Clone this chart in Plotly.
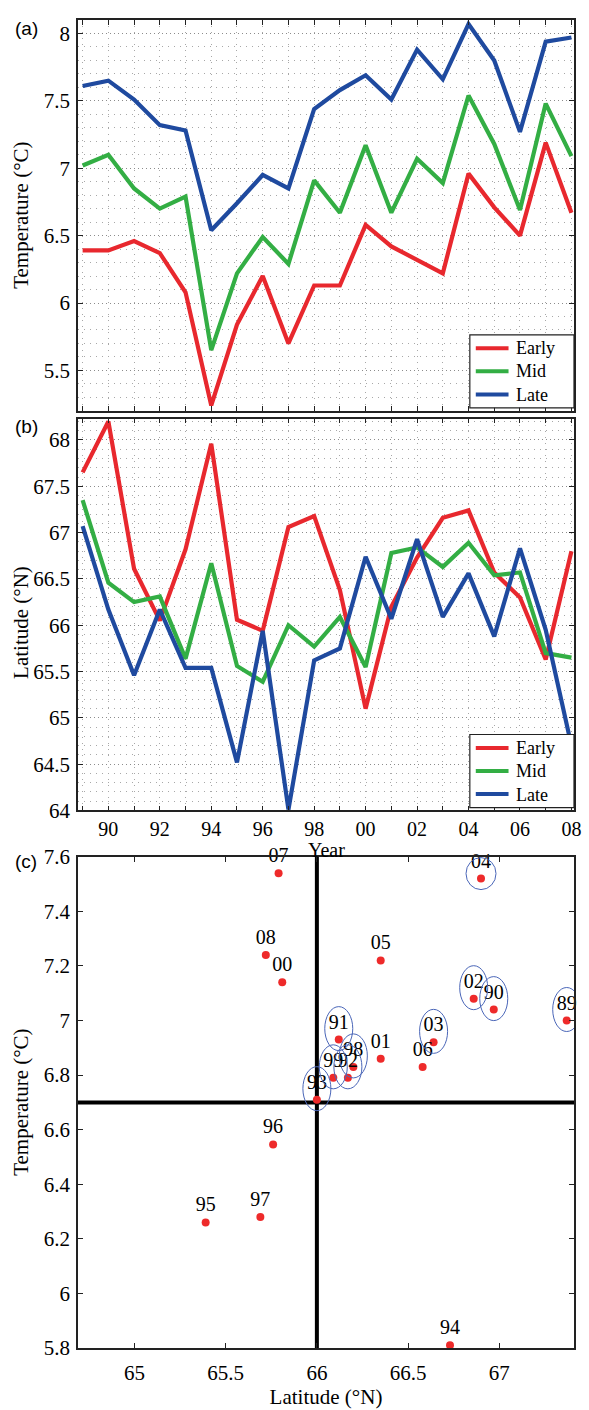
import plotly.graph_objects as go

# ---------------- data ----------------
years = list(range(1989, 2009))

temp_early = [6.39, 6.39, 6.46, 6.37, 6.08, 5.24, 5.84, 6.20, 5.70, 6.13,
              6.13, 6.58, 6.42, 6.32, 6.22, 6.96, 6.71, 6.50, 7.19, 6.67]
temp_mid = [7.02, 7.10, 6.85, 6.70, 6.79, 5.65, 6.22, 6.49, 6.29, 6.91,
            6.67, 7.17, 6.67, 7.07, 6.89, 7.54, 7.18, 6.69, 7.48, 7.09]
temp_late = [7.61, 7.65, 7.51, 7.32, 7.28, 6.54, 6.74, 6.95, 6.85, 7.44,
             7.58, 7.69, 7.51, 7.88, 7.66, 8.07, 7.80, 7.27, 7.94, 7.97]

lat_early = [67.65, 68.20, 66.61, 66.05, 66.82, 67.96, 66.06, 65.94, 67.06, 67.18,
             66.38, 65.10, 66.20, 66.73, 67.16, 67.24, 66.57, 66.30, 65.63, 66.80]
lat_mid = [67.35, 66.46, 66.25, 66.31, 65.64, 66.67, 65.56, 65.39, 66.00, 65.77,
           66.09, 65.55, 66.78, 66.84, 66.63, 66.89, 66.54, 66.57, 65.70, 65.65]
lat_late = [67.07, 66.17, 65.46, 66.17, 65.54, 65.54, 64.52, 65.94, 64.01, 65.62,
            65.75, 66.74, 66.07, 66.93, 66.09, 66.56, 65.88, 66.83, 65.95, 64.70]

year_labels = ["89", "90", "91", "92", "93", "94", "95", "96", "97", "98",
               "99", "00", "01", "02", "03", "04", "05", "06", "07", "08"]
c_lat = [67.37, 66.97, 66.12, 66.17, 66.00, 66.73, 65.39, 65.76, 65.69, 66.20,
         66.09, 65.81, 66.35, 66.86, 66.64, 66.90, 66.35, 66.58, 65.79, 65.72]
c_temp = [7.00, 7.04, 6.93, 6.79, 6.71, 5.81, 6.26, 6.546, 6.28, 6.83,
          6.79, 7.14, 6.86, 7.08, 6.92, 7.52, 7.22, 6.83, 7.54, 7.24]
circled = ["89", "90", "91", "92", "93", "98", "99", "02", "03", "04"]

lat_ref = 66.0
temp_ref = 6.7

series_names = ["Early", "Mid", "Late"]

# ---------------- style ----------------
RED, GREEN, BLUE = "#e8282e", "#33ae44", "#1f4a9f"
colors = [RED, GREEN, BLUE]
SERIF = '"Liberation Serif", "Times New Roman", Times, serif'
SANS = '"Liberation Sans", Arial, sans-serif'
FS = 21
ELL_W, ELL_H, ELL_UP = 28, 44, 11
ELL_OVERRIDE = {"04": (30, 32, 5)}

ML, MR, MT, MB = 78, 11, 8, 53
FIG_W, FIG_H = 589, 1410
PW, PH = FIG_W - ML - MR, FIG_H - MT - MB

def py(px):  # pixel row -> paper y
    return (FIG_H - MB - px) / PH

def pxx(px):  # pixel column -> paper x
    return (px - ML) / PW

dom_a = [py(405), py(8)]
dom_b = [py(811), py(413)]
dom_c = [py(1357), py(858)]

fig = go.Figure()

for name, col, vals in zip(series_names, colors, [temp_early, temp_mid, temp_late]):
    fig.add_trace(go.Scatter(x=years, y=vals, mode="lines", name=name,
                             line=dict(color=col, width=4.2), showlegend=False,
                             xaxis="x", yaxis="y"))
for name, col, vals in zip(series_names, colors, [lat_early, lat_mid, lat_late]):
    fig.add_trace(go.Scatter(x=years, y=vals, mode="lines", name=name,
                             line=dict(color=col, width=4.2), showlegend=False,
                             xaxis="x2", yaxis="y2"))

fig.add_trace(go.Scatter(x=c_lat, y=c_temp, mode="markers+text", text=year_labels,
                         textposition="top center",
                         textfont=dict(family=SERIF, size=20, color="black"),
                         marker=dict(color="#ee2a2a", size=8),
                         showlegend=False, cliponaxis=False,
                         xaxis="x3", yaxis="y3"))

grid_major = dict(showgrid=True, gridcolor="#8c8c8c", griddash="1px,3px", gridwidth=1)
minor_grid = dict(showgrid=True, gridcolor="#a8a8a8", griddash="1px,5px", gridwidth=1, ticklen=0)
frame = dict(showline=True, linecolor="#222", linewidth=1.5, mirror="allticks",
             ticks="inside", ticklen=5, tickcolor="#222", zeroline=False,
             tickfont=dict(family=SERIF, size=FS, color="black"))

xrange_years = [1988.82, 2008.1]
even_labels = [lab if y % 2 == 0 else "" for y, lab in zip(years, year_labels)]
xgrid_years = dict(showgrid=True, gridcolor="#a8a8a8", griddash="1px,5px", gridwidth=1)

fig.update_layout(
    width=FIG_W, height=FIG_H,
    margin=dict(l=ML, r=MR, t=MT, b=MB),
    paper_bgcolor="white", plot_bgcolor="white",
    font=dict(family=SERIF, size=FS, color="black"),
    showlegend=False,
    xaxis=dict(domain=[0, 1], anchor="y", range=xrange_years, tickvals=years,
               showticklabels=False, **xgrid_years, **frame),
    yaxis=dict(domain=dom_a, anchor="x", range=[5.2, 8.1], dtick=0.5, tick0=5.5,
               minor=dict(dtick=0.1, **minor_grid), ticklabelstandoff=2,
               **grid_major, **frame),
    xaxis2=dict(domain=[0, 1], anchor="y2", range=xrange_years, tickvals=years,
                ticktext=even_labels, ticklabelstandoff=0,
                **xgrid_years, **frame),
    yaxis2=dict(domain=dom_b, anchor="x2", range=[64, 68.23], dtick=0.5, tick0=64,
                minor=dict(dtick=0.1, **minor_grid), ticklabelstandoff=2,
                **grid_major, **frame),
    xaxis3=dict(domain=[0, 1], anchor="y3", range=[64.69, 67.41], dtick=0.5, tick0=65,
                showgrid=False, ticklabelstandoff=5,
                title=dict(text="Latitude (°N)", standoff=2, font=dict(family=SERIF, size=FS)),
                **frame),
    yaxis3=dict(domain=dom_c, anchor="x3", range=[5.8, 7.6], dtick=0.2, tick0=5.8,
                showgrid=False, ticklabelstandoff=2, **frame),
)
fig.update_xaxes(tickfont=dict(family=SERIF, size=20, color="black"), selector=dict(anchor="y2"))

shapes = [
    dict(type="line", xref="x3", yref="y3 domain", x0=lat_ref, x1=lat_ref, y0=0, y1=1,
         line=dict(color="black", width=4), layer="below"),
    dict(type="line", xref="x3 domain", yref="y3", x0=0, x1=1, y0=temp_ref, y1=temp_ref,
         line=dict(color="black", width=4), layer="below"),
]
for lab, lx, ty in zip(year_labels, c_lat, c_temp):
    if lab in circled:
        w, h, up = ELL_OVERRIDE.get(lab, (ELL_W, ELL_H, ELL_UP))
        shapes.append(dict(type="circle", xref="x3", yref="y3",
                           xsizemode="pixel", ysizemode="pixel",
                           xanchor=lx, yanchor=ty,
                           x0=-w / 2, x1=w / 2, y0=up - h / 2, y1=up + h / 2,
                           line=dict(color="#4a66b8", width=1)))

annotations = []

# legends drawn inside panels (a) and (b): box, line samples, one multi-line label block
LEG_LEFT, LEG_RIGHT = 473, 578
LEG_FS = 18
LINE_STEP = LEG_FS * 1.3
for bot_px in (402, 808):
    box_h = 3 * LINE_STEP + 4
    top_px = bot_px - box_h
    mid_px = (top_px + bot_px) / 2
    shapes.append(dict(type="rect", xref="paper", yref="paper",
                       x0=pxx(LEG_LEFT), x1=pxx(LEG_RIGHT), y0=py(bot_px), y1=py(top_px),
                       fillcolor="white", line=dict(color="#222", width=1.2), layer="above"))
    for i, col in enumerate(colors):
        yy = mid_px + (i - 1) * LINE_STEP
        shapes.append(dict(type="line", xref="paper", yref="paper",
                           x0=pxx(479), x1=pxx(512), y0=py(yy), y1=py(yy),
                           line=dict(color=col, width=4), layer="above"))
    annotations.append(dict(text="<br>".join(series_names), x=pxx(518), y=py(mid_px),
                            xref="paper", yref="paper", align="left",
                            xanchor="left", yanchor="middle", showarrow=False,
                            font=dict(family=SERIF, size=LEG_FS, color="black")))

fig.update_layout(shapes=shapes)

annotations += [
    dict(text="(a)", x=pxx(26), y=py(17), xref="paper", yref="paper",
         showarrow=False, font=dict(family=SANS, size=19), xanchor="center", yanchor="middle"),
    dict(text="(b)", x=pxx(26), y=py(421), xref="paper", yref="paper",
         showarrow=False, font=dict(family=SANS, size=19), xanchor="center", yanchor="middle"),
    dict(text="(c)", x=pxx(26), y=py(863), xref="paper", yref="paper",
         showarrow=False, font=dict(family=SANS, size=19), xanchor="center", yanchor="middle"),
    dict(text="Year", x=0.5, y=py(851), xref="paper", yref="paper",
         showarrow=False, font=dict(family=SERIF, size=20), xanchor="center", yanchor="middle"),
    dict(text="Temperature (°C)", x=pxx(21), y=sum(dom_a) / 2, xref="paper", yref="paper",
         textangle=-90, showarrow=False, font=dict(family=SERIF, size=FS),
         xanchor="center", yanchor="middle"),
    dict(text="Latitude (°N)", x=pxx(21), y=py(620), xref="paper", yref="paper",
         textangle=-90, showarrow=False, font=dict(family=SERIF, size=FS),
         xanchor="center", yanchor="middle"),
    dict(text="Temperature (°C)", x=pxx(21), y=sum(dom_c) / 2, xref="paper", yref="paper",
         textangle=-90, showarrow=False, font=dict(family=SERIF, size=FS),
         xanchor="center", yanchor="middle"),
]
fig.update_layout(annotations=annotations)

fig.write_html("out.html")
